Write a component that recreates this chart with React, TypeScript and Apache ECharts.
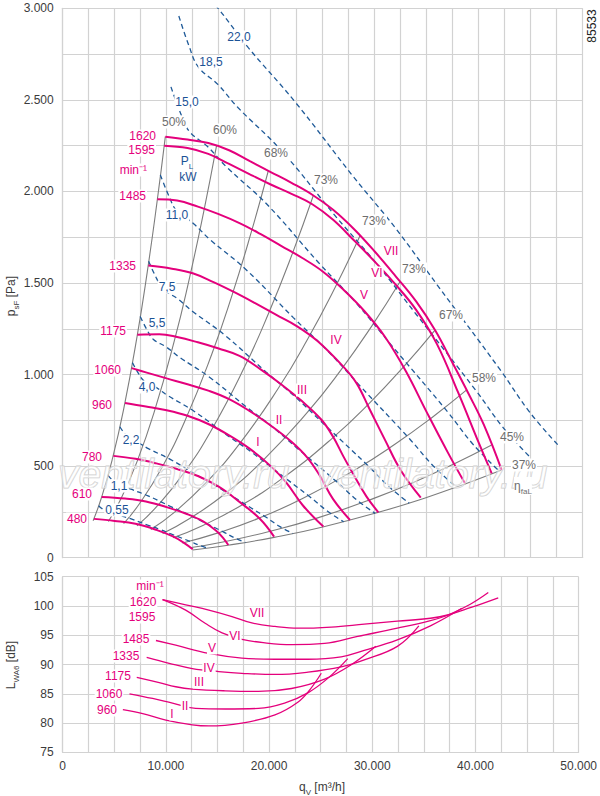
import React, { useEffect, useRef } from "react";
import * as echarts from "echarts";

// ---------- axes ----------
const qMin = 0, qMax = 50000, qStep = 2500, qLabelStep = 10000;
const pMin = 0, pMax = 3000, pStep = 250, pLabelStep = 500;
const lMin = 75, lMax = 105, lStep = 5;

// ---------- fan curves, top chart [q m3/h, p Pa] ----------
const n480 = [[3009,212],[5000,201],[7000,185],[9000,152],[10600,116],[11700,80],[12500,46]];
const n610 = [[3746,332],[6000,323],[8000,307],[10000,276],[12000,237],[13500,198],[14700,150],[15400,110],[15925,69]];
const n780 = [[4868,556],[7000,540],[9000,515],[11000,484],[13000,446],[15000,388],[17000,305],[19000,210],[20322,115]];
const n960 = [[5990,845],[8000,826],[10000,805],[12000,775],[14000,730],[16000,668],[18000,594],[20000,500],[21500,410],[23100,285],[25060,170]];
const n1060 = [[6631,1035],[8000,1012],[10000,979],[12000,947],[14000,912],[16000,866],[18000,800],[20000,722],[22000,633],[23500,548],[24700,450],[26000,320],[27624,206]];
const n1175 = [[7176,1218],[9300,1220],[11000,1205],[13000,1176],[15000,1142],[17000,1102],[19000,1030],[21000,947],[23000,855],[24900,752],[26000,660],[27000,552],[28000,450],[29200,335],[30349,248]];
const n1335 = [[8233,1595],[10500,1578],[12500,1553],[14500,1505],[16500,1450],[18500,1390],[20500,1327],[22500,1265],[24500,1183],[26983,1043],[28265,952],[29500,812],[31000,642],[32500,478],[34430,328]];
const n1485 = [[9099,1957],[11000,1950],[13000,1917],[15000,1876],[17000,1827],[19000,1768],[21000,1703],[23000,1638],[25000,1563],[27000,1463],[29000,1347],[31000,1205],[33000,1018],[35000,795],[37000,578],[38681,406]];
const n1595 = [[9762,2250],[12000,2237],[14000,2205],[16000,2150],[18000,2093],[20000,2038],[22000,1987],[24000,1930],[26000,1845],[28000,1733],[30000,1617],[32000,1492],[34000,1352],[36000,1165],[38000,905],[40000,628],[41245,460]];
const n1620 = [[9868,2299],[12000,2283],[14000,2264],[16000,2225],[18000,2165],[20000,2106],[22000,2047],[24000,1982],[26000,1900],[28000,1795],[30000,1672],[32000,1538],[34000,1398],[35797,1243],[37500,1062],[39000,898],[40500,725],[42207,479]];

// ---------- efficiency lines (grey) ----------
const eff50 = [[2924,202],[3715,326],[4751,533],[5848,807],[7157,1210],[8132,1561],[9046,1932],[9868,2299]];
const eff60 = [[4386,198],[5574,319],[7128,522],[8773,791],[10737,1185],[12200,1530],[13571,1893],[14804,2253]];
const eff68 = [[5858,186],[7444,300],[9520,490],[11716,742],[14340,1112],[16293,1435],[18124,1776],[19771,2113]];
const eff73a = [[7140,174],[9073,281],[11603,459],[14281,695],[17478,1041],[19859,1343],[22091,1662],[24098,1978]];
const eff73b = [[8470,154],[10763,249],[13764,408],[16940,617],[20733,925],[23558,1194],[26205,1477],[28586,1758]];
const eff73c = [[9609,132],[12210,214],[15616,349],[19219,529],[23522,793],[26726,1023],[29730,1266],[32431,1507]];
const eff67 = [[10607,109],[13478,176],[17236,288],[21213,437],[25964,654],[29500,844],[32815,1045],[35797,1243]];
const eff58 = [[11510,80],[14625,130],[18703,212],[23019,322],[28174,482],[32011,622],[35608,770],[38844,916]];
const eff45 = [[12221,54],[15529,87],[19859,143],[24442,216],[29915,324],[33990,418],[37809,517],[41245,615]];
const eff37 = [[12506,42],[15891,68],[20323,111],[25012,168],[30613,252],[34783,325],[38691,403],[42207,479]];

// ---------- power lines P_L kW (dashed) ----------
const pw055 = [[3459,284],[3768,268],[4038,257],[4628,248],[5219,236],[6518,213],[8171,178],[9353,154],[10533,127],[12294,88],[13130,68],[13947,52]];
const pw11 = [[4357,450],[4747,425],[5087,408],[5831,393],[6575,374],[8211,338],[10294,282],[11783,244],[13269,202],[15488,140],[16540,108],[17570,83]];
const pw22 = [[5491,715],[5982,675],[6410,648],[7348,625],[8285,594],[10347,537],[12972,449],[14849,388],[16722,321],[19517,222],[20844,171],[22141,132]];
const pw40 = [[6700,1065],[7300,1005],[7822,965],[8966,930],[10110,885],[12626,800],[15829,668],[18119,578],[20405,478],[23816,330],[25435,255],[27018,196]];
const pw55 = [[7450,1317],[8118,1243],[8698,1193],[9970,1150],[11242,1094],[14040,989],[17602,826],[20148,715],[22690,591],[26483,408],[28284,315],[30044,242]];
const pw75 = [[8262,1619],[9002,1528],[9645,1467],[11056,1414],[12467,1346],[15569,1216],[19519,1016],[22343,879],[25161,727],[29368,502],[31364,388],[33316,298]];
const pw110 = [[9387,2090],[10227,1973],[10959,1894],[12561,1825],[14164,1737],[17689,1570],[22176,1311],[25385,1135],[28587,938],[33366,648],[35634,501],[37852,385]];
const pw150 = [[10409,2571],[11341,2426],[12152,2329],[13929,2245],[15707,2136],[19616,1931],[24592,1612],[28150,1395],[31701,1154],[37001,797],[39516,615],[41975,473]];
const pw185 = [[11166,2958],[12165,2791],[13035,2680],[14942,2583],[16848,2458],[21041,2222],[26379,1855],[30195,1605],[34005,1328],[39689,916],[42388,708],[45025,544]];
const pw220 = [[13000,3120],[14937,3000],[17846,2785],[22287,2493],[27941,2081],[31984,1801],[36019,1489],[42040,1028],[44898,795],[47692,611]];

// ---------- sound power, bottom chart [q m3/h, L dB] ----------
const sVII = [[9676,101.1],[11919,100.2],[14163,99.3],[16406,98.2],[18329,97.1],[20573,96.5],[22816,96.2],[26021,96.4],[29226,96.9],[32431,97.4],[35636,97.9],[37400,98.5],[39500,99.7],[42207,101.4]];
const sVI = [[9676,101.1],[11919,99.3],[13842,97.0],[15445,95.4],[17368,94.3],[19611,93.7],[22175,93.4],[25380,93.6],[28585,94.8],[32431,96.2],[35636,97.5],[37400,98.5],[39500,100.3],[41245,102.3]];
const sV = [[9035,94.1],[10958,93.3],[14163,91.9],[17368,91.1],[20573,90.9],[23778,90.9],[26983,91.3],[29226,92.4],[32431,94.2],[35636,96.6],[38681,99.6]];
const sIV = [[8137,91.2],[10317,90.2],[12560,89.3],[15125,88.8],[17368,88.5],[20573,88.3],[23778,88.7],[26983,89.6],[29226,90.8],[32431,93.1],[34514,96.6]];
const sIII = [[7176,87.8],[9355,86.9],[10958,86.2],[12560,85.8],[15765,85.5],[18970,85.4],[22175,85.9],[25380,87.5],[28000,90.0],[30349,93.1]];
const sII = [[6471,85.0],[8714,84.2],[10637,83.4],[12881,82.5],[15765,82.4],[18970,82.5],[21500,83.4],[23800,85.2],[25800,87.8],[27624,91.0]];
const sI = [[5830,82.3],[7753,81.6],[9996,80.5],[12560,79.7],[14163,79.5],[17368,80.0],[20573,81.4],[22816,83.6],[24000,85.8],[25060,88.5]];

// ---------- label texts ----------
const rpmTop = ["1620","1595","min⁻¹","1485","1335","1175","1060","960","780","610","480"];
const romanTop = ["VII","VI","V","IV","III","II","I"];
const effLabels = ["50%","60%","68%","73%","73%","73%","67%","58%","45%","37%"];
const powerLabels = ["22,0","18,5","15,0","11,0","7,5","5,5","4,0","2,2","1,1","0,55"];
const rpmBottom = ["min⁻¹","1620","1595","1485","1335","1175","1060","960"];
const romanBottom = ["VII","VI","V","IV","III","II","I"];

// ---------- style / layout (pixels) ----------
const FONT = "'Liberation Sans', Arial, Helvetica, sans-serif";
const PINK = "#e4007c";
const GRAY = "#7d7d7d";
const BLUE = "#1f5a98";
const LBLUE = "#1b5296";
const GRIDC = "#d2d2d2";
const TXT = "#3b3b3b";
const G0 = { left: 62.7, top: 8.3, width: 520, height: 549.4 };
const G1 = { left: 62.7, top: 576.7, width: 520, height: 175.6 };

const rpmTopPos = [[157,136],[156,150],[148,170],[147,196],[137,266],[127,331],[122,370],[113,405],[103,457],[93,494],[88,519]];
const romanTopPos = [[391,251],[377,273],[364,295],[336,340],[302,390],[279,420],[258,442]];
const effPos = [[174,122],[225,130],[276,153],[326,180],[374,221],[414,269],[451,315],[484,378],[512,437],[524,465]];
const powerPos = [[239,37],[211,62],[187,102],[177,215],[167,287],[157,323],[147,387],[131,440],[119,486],[117,510]];
const rpmBottomPos = [[150,586],[143,602],[142,617],[136,639],[126,656],[118,676],[109,694],[107,710]];
const romanBottomPos = [[257,613],[235,636],[212,648],[209,668],[199,682],[185,706],[172,714]];

const fmt = (v: number) => String(Math.round(v)).replace(/\B(?=(\d{3})+(?!\d))/g, ".");

function mkLine(data: number[][], color: string, width: number, z: number, idx: number, dashed = false, smooth = 0.4) {
  return {
    type: "line",
    data,
    xAxisIndex: idx,
    yAxisIndex: idx,
    symbol: "none",
    smooth,
    silent: true,
    z,
    lineStyle: { color, width, type: dashed ? [5, 3.5] : "solid", cap: "butt" },
  };
}

function txt(x: number, y: number, text: string, color: string, align = "center", bg = true, size = 12) {
  return {
    type: "text",
    x,
    y,
    z: 100,
    silent: true,
    style: {
      text,
      fill: color,
      font: `${size}px ${FONT}`,
      align,
      verticalAlign: "middle",
      backgroundColor: bg ? "#fff" : undefined,
      padding: bg ? [1, 1, 0, 1] : 0,
    },
  };
}

function richTxt(x: number, y: number, main1: string, sub: string, main2: string, color: string, rotation = 0, bg = false) {
  return {
    type: "text",
    x,
    y,
    z: 100,
    rotation,
    silent: true,
    style: {
      text: `{m|${main1}}{s|${sub}}{m|${main2}}`,
      align: "center",
      verticalAlign: "middle",
      backgroundColor: bg ? "#fff" : undefined,
      rich: {
        m: { fontSize: 12, fontFamily: FONT, fill: color, color, lineHeight: 18 },
        s: { fontSize: 8, fontFamily: FONT, fill: color, color, lineHeight: 18, verticalAlign: "bottom" },
      },
    },
  };
}

function buildOption() {
  const topPink = [n480, n610, n780, n960, n1060, n1175, n1335, n1485, n1595, n1620];
  const grey = [eff50, eff60, eff68, eff73a, eff73b, eff73c, eff67, eff58, eff45, eff37];
  const power = [pw055, pw11, pw22, pw40, pw55, pw75, pw110, pw150, pw185, pw220];
  const bottom = [sVII, sVI, sV, sIV, sIII, sII, sI];

  const series: any[] = [];
  grey.forEach((d) => series.push(mkLine(d, GRAY, 1.1, 2, 0, false, 0.5)));
  power.forEach((d) => series.push(mkLine(d, BLUE, 1.3, 3, 0, true, 0.4)));
  topPink.forEach((d) => series.push(mkLine(d, PINK, 2, 4, 0, false, 0.4)));
  bottom.forEach((d) => series.push(mkLine(d, PINK, 1.3, 4, 1, false, 0.4)));

  const graphic: any[] = [];
  // watermark
  [58, 316].forEach((x) =>
    graphic.push({
      type: "text", x, y: 474, z: 50, silent: true,
      style: { text: "ventilatory.ru", font: `italic 41px ${FONT}`, fill: "rgba(255,255,255,0.45)", stroke: "#cdcdcd", lineWidth: 1, align: "left", verticalAlign: "middle" },
    })
  );

  rpmTop.forEach((t, i) => graphic.push(txt(rpmTopPos[i][0], rpmTopPos[i][1], t, PINK, "right")));
  romanTop.forEach((t, i) => graphic.push(txt(romanTopPos[i][0], romanTopPos[i][1], t, PINK)));
  effLabels.forEach((t, i) => graphic.push(txt(effPos[i][0], effPos[i][1], t, "#6e6e6e")));
  powerLabels.forEach((t, i) => graphic.push(txt(powerPos[i][0], powerPos[i][1], t, LBLUE)));
  rpmBottom.forEach((t, i) => graphic.push(txt(rpmBottomPos[i][0], rpmBottomPos[i][1], t, PINK)));
  romanBottom.forEach((t, i) => graphic.push(txt(romanBottomPos[i][0], romanBottomPos[i][1], t, PINK)));

  graphic.push(richTxt(187, 161, "P", "L", "", LBLUE));
  graphic.push(txt(188, 177, "kW", LBLUE, "center", false));
  graphic.push(richTxt(523, 486, "η", "faL", "", "#6e6e6e", 0, true));

  // axis names
  graphic.push(richTxt(11, 296, "p", "sF", " [Pa]", TXT, Math.PI / 2));
  graphic.push(richTxt(11, 665, "L", "WA6", " [dB]", TXT, Math.PI / 2));
  graphic.push(richTxt(322, 787, "q", "V", " [m³/h]", TXT));
  graphic.push({
    type: "text", x: 592, y: 26, z: 100, rotation: Math.PI / 2, silent: true,
    style: { text: "85533", font: `12px ${FONT}`, fill: "#222", align: "center", verticalAlign: "middle" },
  });

  const splitLine = { show: true, lineStyle: { color: GRIDC, width: 1.2 } };
  const axisLine = { show: true, lineStyle: { color: GRIDC, width: 1.2 } };
  const labelStyle = { color: TXT, fontSize: 12, fontFamily: FONT };

  return {
    animation: false,
    backgroundColor: "#fff",
    grid: [
      { left: G0.left, top: G0.top, width: G0.width, height: G0.height, containLabel: false },
      { left: G1.left, top: G1.top, width: G1.width, height: G1.height, containLabel: false },
    ],
    xAxis: [
      {
        type: "value", gridIndex: 0, min: qMin, max: qMax, interval: qStep,
        axisLabel: { show: false }, axisTick: { show: false }, axisLine, splitLine,
      },
      {
        type: "value", gridIndex: 1, min: qMin, max: qMax, interval: qStep,
        axisLabel: { ...labelStyle, margin: 8, formatter: (v: number) => (v % qLabelStep === 0 ? fmt(v) : "") },
        axisTick: { show: false }, axisLine, splitLine,
      },
    ],
    yAxis: [
      {
        type: "value", gridIndex: 0, min: pMin, max: pMax, interval: pStep,
        axisLabel: { ...labelStyle, margin: 9, formatter: (v: number) => (v % pLabelStep === 0 ? fmt(v) : "") },
        axisTick: { show: false }, axisLine, splitLine,
      },
      {
        type: "value", gridIndex: 1, min: lMin, max: lMax, interval: lStep,
        axisLabel: { ...labelStyle, margin: 9, formatter: (v: number) => String(v) },
        axisTick: { show: false }, axisLine, splitLine,
      },
    ],
    series,
    graphic,
  };
}

export default function App() {
  const ref = useRef<HTMLDivElement>(null);
  useEffect(() => {
    document.body.style.margin = "0";
    const chart = echarts.init(ref.current as HTMLDivElement, undefined, { renderer: "svg", width: 600, height: 796 });
    chart.setOption(buildOption() as any);
    return () => chart.dispose();
  }, []);
  return <div ref={ref} style={{ position: "absolute", left: 0, top: 0, width: 600, height: 796, background: "#fff" }} />;
}
